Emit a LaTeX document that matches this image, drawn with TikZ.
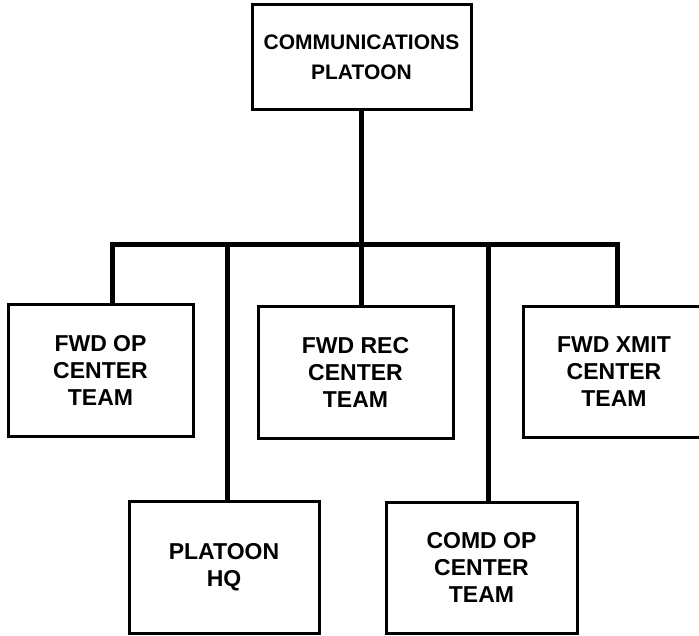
\documentclass[tikz,border=0pt]{standalone}
\usepackage{fontspec}
\setmainfont{Liberation Sans}
\usepackage{tikz}

\begin{document}
\begin{tikzpicture}[x=1pt,y=-1pt]
\tikzstyle{unit}=[draw=black, line width=3pt, inner sep=0pt, align=center, font=\fontsize{23}{27}\selectfont\bfseries]
\tikzstyle{link}=[draw=black, line width=5pt, line join=miter]
\useasboundingbox (0,0) rectangle (699,636);
\node [unit, minimum width=219pt, minimum height=105pt, font=\fontsize{21}{30}\selectfont\bfseries] (top) at (361.5,57.5) {COMMUNICATIONS\\PLATOON};
\node [unit, minimum width=185pt, minimum height=131pt] (fwdop) at (100.5,370.5) {FWD OP\\CENTER\\TEAM};
\node [unit, minimum width=195pt, minimum height=131pt] (fwdrec) at (355.5,372.5) {FWD REC\\CENTER\\TEAM};
\node [unit, minimum width=182pt, minimum height=130pt] (fwdxmit) at (614,372) {FWD XMIT\\CENTER\\TEAM};
\node [unit, minimum width=190pt, minimum height=132pt] (hq) at (224,567) {PLATOON\\HQ};
\node [unit, minimum width=191pt, minimum height=131pt] (comd) at (481.5,567.5) {COMD OP\\CENTER\\TEAM};
\coordinate (bar) at (360,245);
\draw [link] (top.south) -- (top.south |- fwdrec.north);
\draw [link] ([xshift=11.5pt]fwdop.north) |- (bar) -| ([xshift=3pt]fwdxmit.north);
\draw [link] ([xshift=3pt]hq.north) -- ([xshift=3pt]hq.north |- bar);
\draw [link] ([xshift=6.5pt]comd.north) -- ([xshift=6.5pt]comd.north |- bar);
\end{tikzpicture}
\end{document}
